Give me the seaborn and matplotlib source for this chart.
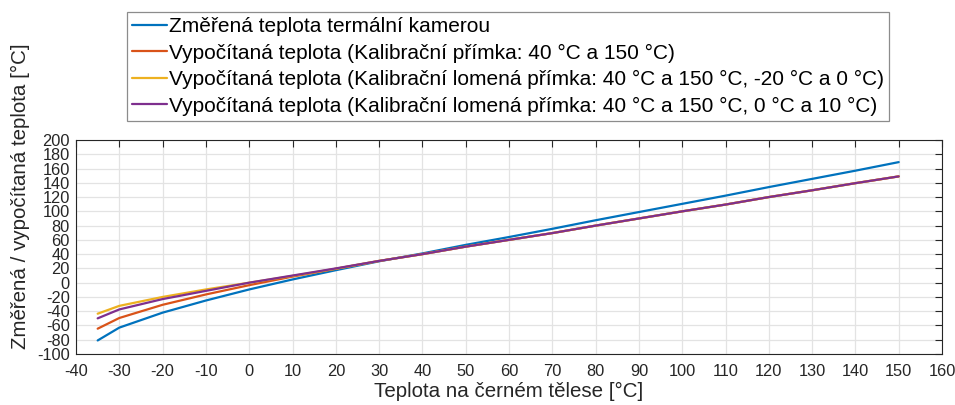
import numpy as np
import pandas as pd
import matplotlib
matplotlib.use("Agg")
import matplotlib.pyplot as plt
import seaborn as sns

# Black-body reference temperature [°C]
teplota_telesa = [-35, -30, -20, -10, 0, 10, 20, 30, 40, 50, 60, 70, 80, 90, 100, 110, 120, 130, 140, 150]

# Temperature measured by the thermal camera [°C]
zmerena = [-81, -63, -42, -25, -9.5, 4.5, 17.5, 30, 41, 53, 64, 75.5, 87.5, 99, 110.5, 122, 134, 145.5, 157, 169]
# Calibrated temperatures [°C]
kal_primka = [-64.5, -49.5, -31, -16.5, -3.5, 8.5, 19.5, 30.5, 40, 50.5, 60, 69.5, 80, 90, 100, 109.5, 120, 129.5, 139.5, 149]
kal_lomena_m20_0 = [-43.5, -32.5, -20, -9.5, 0, 9.5, 19.5, 30.5, 40, 50.5, 60, 69.5, 80, 90, 100, 109.5, 120, 129.5, 139.5, 149]
kal_lomena_0_10 = [-50, -37.5, -23, -11.5, 0, 10, 20, 30.5, 40, 50.5, 60, 69.5, 80, 90, 100, 109.5, 120, 129.5, 139.5, 149]

nazvy = [
    "Změřená teplota termální kamerou",
    "Vypočítaná teplota (Kalibrační přímka: 40 °C a 150 °C)",
    "Vypočítaná teplota (Kalibrační lomená přímka: 40 °C a 150 °C, -20 °C a 0 °C)",
    "Vypočítaná teplota (Kalibrační lomená přímka: 40 °C a 150 °C, 0 °C a 10 °C)",
]
barvy = ["#0072BD", "#D95319", "#EDB120", "#7E2F8E"]

x_ticks = list(range(-40, 161, 10))
y_ticks = list(range(-100, 201, 20))

rady = [zmerena, kal_primka, kal_lomena_m20_0, kal_lomena_0_10]
df = pd.concat(
    [pd.DataFrame({"T": teplota_telesa, "hodnota": r, "rada": n}) for r, n in zip(rady, nazvy)],
    ignore_index=True,
)

sns.set_style("white")
plt.rcParams["font.family"] = ["Liberation Sans", "DejaVu Sans"]

fig = plt.figure(figsize=(9.55, 4.05), dpi=100)
ax = fig.add_axes([0.0796, 0.1259, 0.9068, 0.5284])

sns.lineplot(data=df, x="T", y="hodnota", hue="rada", hue_order=nazvy,
             palette=barvy, linewidth=1.6, ax=ax, legend=False, sort=False,
             estimator=None)

ax.set_xlim(-40, 160)
ax.set_ylim(-100, 200)
ax.set_xticks(x_ticks)
ax.set_yticks(y_ticks)
ax.set_xticklabels([str(v) for v in x_ticks])
ax.set_yticklabels([str(v) for v in y_ticks])
ax.tick_params(axis="both", which="major", direction="in", length=5, width=0.8,
               color="#262626", labelcolor="#262626", labelsize=11.8,
               top=True, right=True)
ax.tick_params(axis="x", pad=7)
ax.tick_params(axis="y", pad=4.5)
ax.grid(True, color="#e3e3e3", linewidth=0.9)
ax.set_axisbelow(True)
for s in ax.spines.values():
    s.set_color("#262626")
    s.set_linewidth(0.8)

ax.set_xlabel("Teplota na černém tělese [°C]", fontsize=14.8, color="#262626", labelpad=2.5)
ax.set_ylabel("Změřená / vypočítaná teplota [°C]", fontsize=14.8, color="#262626")
ax.yaxis.set_label_coords(-0.053, 0.738)

handles = [plt.Line2D([0], [0], color=c, linewidth=1.6) for c in barvy]
leg = fig.legend(handles, nazvy, loc="upper left", bbox_to_anchor=(126.5 / 955, 1 - 12 / 405),
                 frameon=True, fancybox=False, fontsize=15, handlelength=1.7,
                 handletextpad=0.08, borderpad=0.24, labelspacing=0.36, borderaxespad=0)
leg.get_frame().set_edgecolor("#707070")
leg.get_frame().set_linewidth(0.9)
for t in leg.get_texts():
    t.set_color("#000000")

fig.savefig("out.png", dpi=100)
